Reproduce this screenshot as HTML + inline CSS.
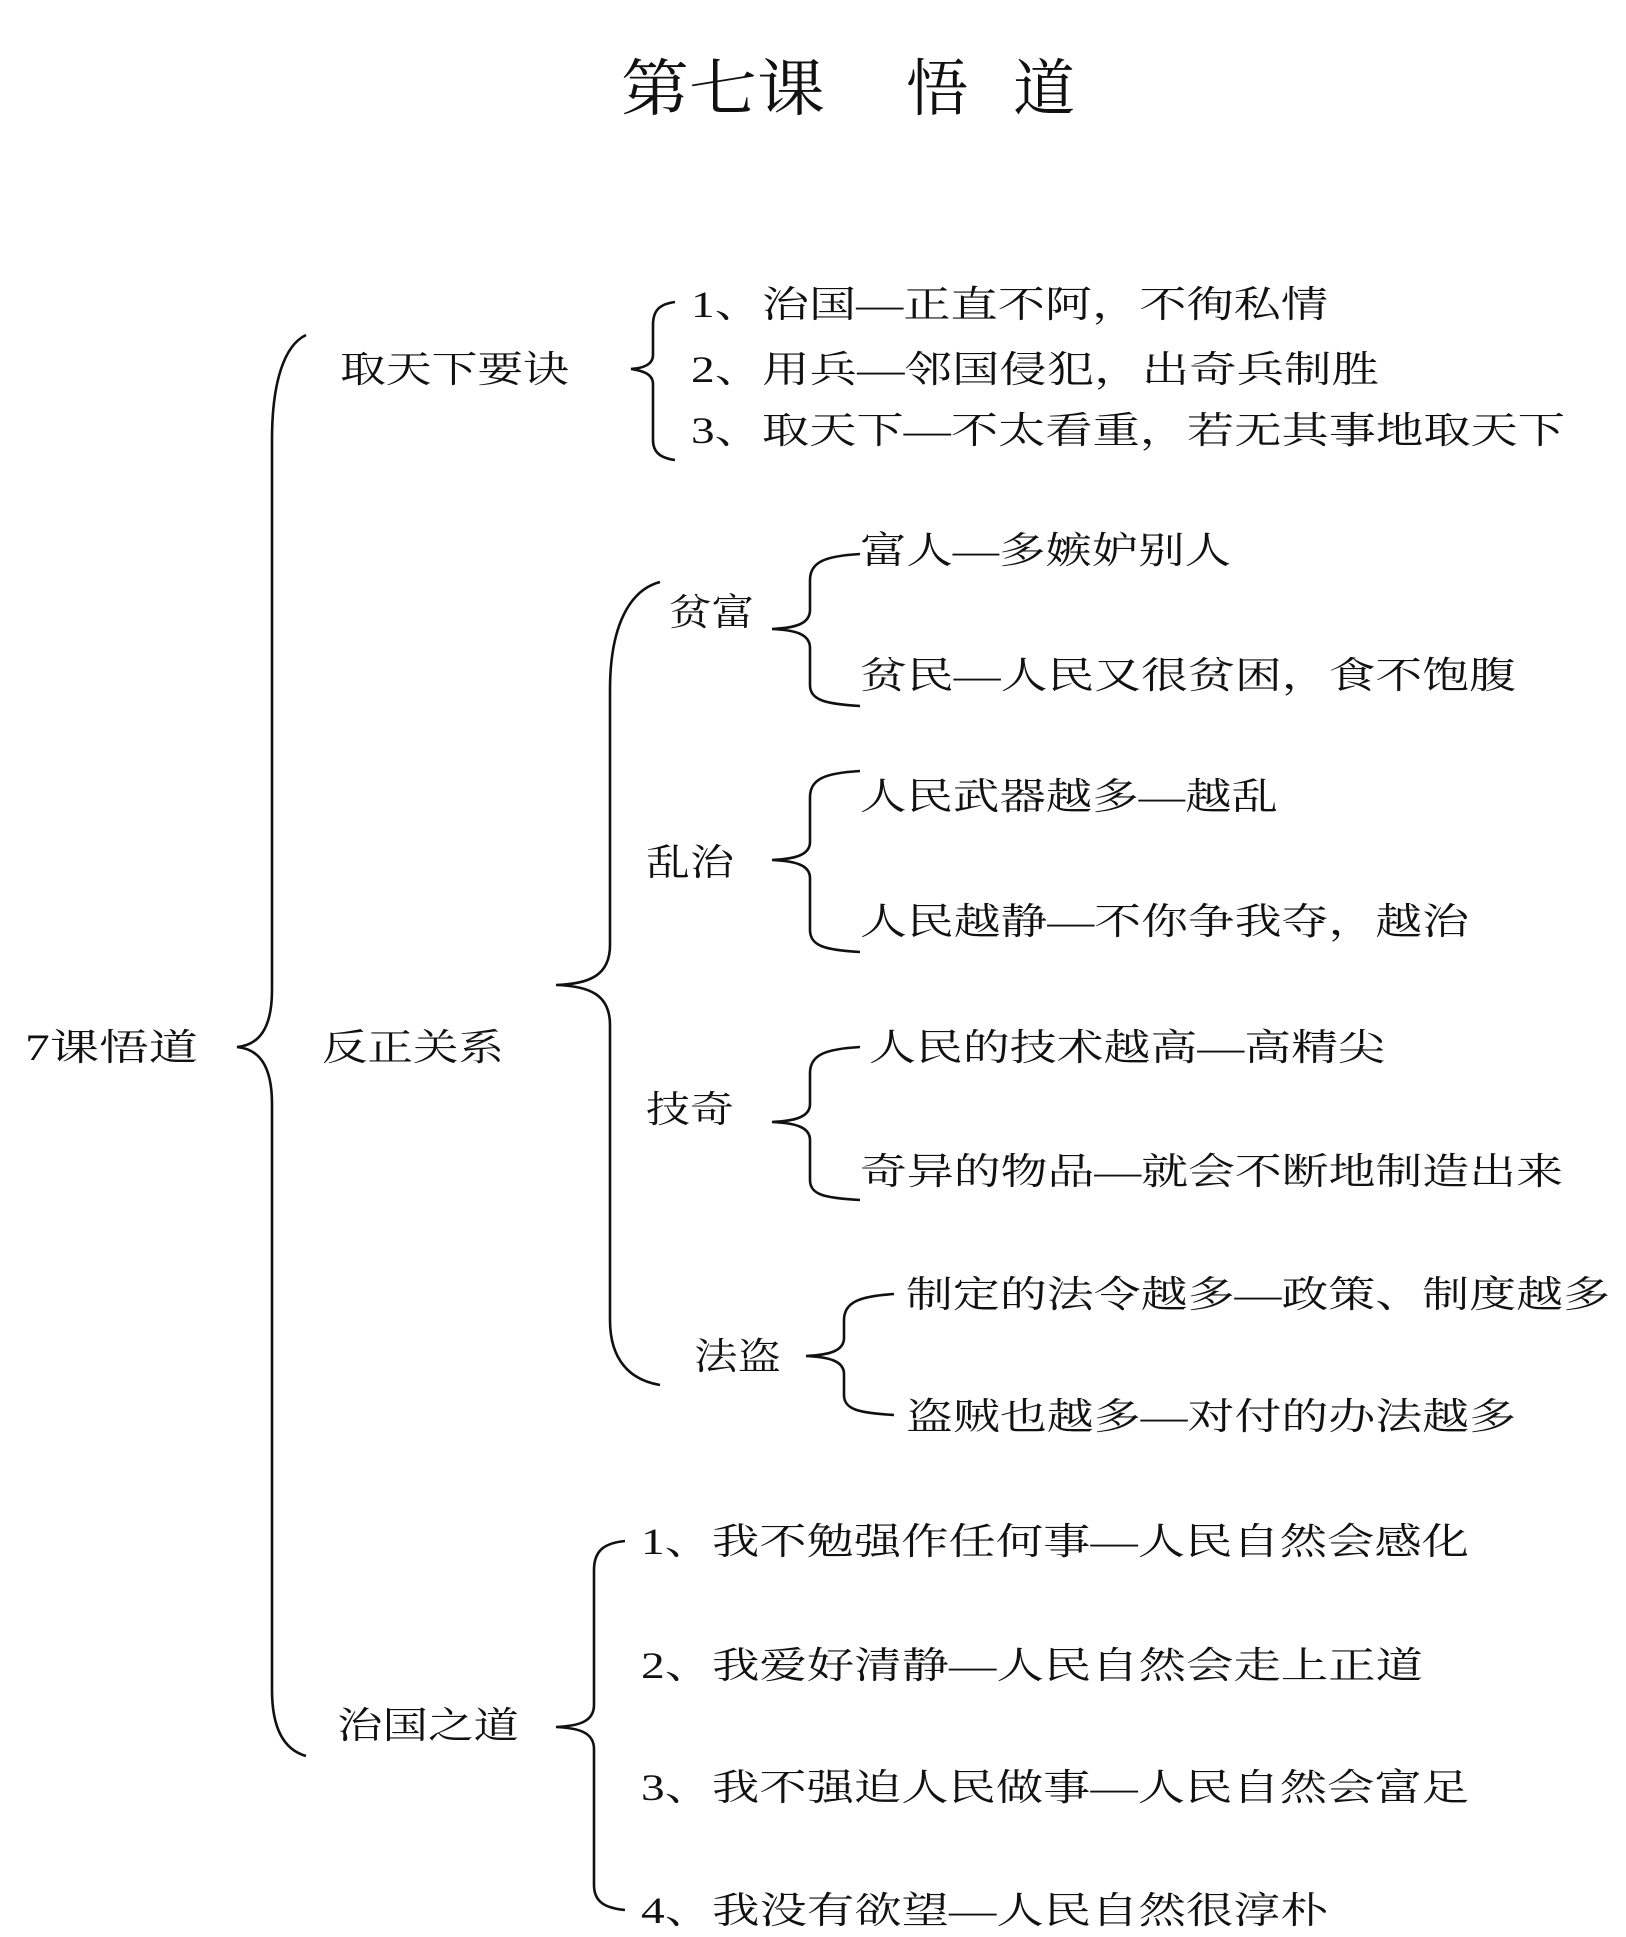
<!DOCTYPE html>
<html><head><meta charset="utf-8"><style>
html,body{margin:0;padding:0;background:#fff;}
svg{display:block;}
text{font-family:"Liberation Serif","Noto Serif CJK SC",serif;font-size:37px;fill:#111;}
.t{font-size:62px;}
path{fill:none;stroke:#111;stroke-width:2.6;}
</style></head><body>
<svg width="1626" height="1937" viewBox="0 0 1626 1937" xmlns="http://www.w3.org/2000/svg">
<text class="t" x="621" y="110" textLength="204" lengthAdjust="spacingAndGlyphs">第七课</text>
<text class="t" x="906" y="110">悟</text>
<text class="t" x="1013" y="110">道</text>

<!-- main brace -->
<path d="M306,335 C285,345 272,380 272,440 L272,990 C272,1030 258,1045 237,1047 C258,1049 272,1064 272,1104 L272,1690 C272,1730 285,1750 306,1756"/>
<text x="25" y="1060" textLength="173" lengthAdjust="spacingAndGlyphs">7课悟道</text>

<!-- 取天下要诀 -->
<text x="340" y="382" textLength="229" lengthAdjust="spacingAndGlyphs">取天下要诀</text>
<path d="M675,302 C660,304 653,310 653,325 L653,355 C653,364 645,368 631,369 C645,371 653,375 653,384 L653,440 C653,452 660,458 675,460"/>
<text x="691" y="317" textLength="637" lengthAdjust="spacingAndGlyphs">1、治国—正直不阿，不徇私情</text>
<text x="691" y="382" textLength="688" lengthAdjust="spacingAndGlyphs">2、用兵—邻国侵犯，出奇兵制胜</text>
<text x="691" y="443" textLength="874" lengthAdjust="spacingAndGlyphs">3、取天下—不太看重，若无其事地取天下</text>

<!-- 反正关系 -->
<text x="322" y="1060" textLength="182" lengthAdjust="spacingAndGlyphs">反正关系</text>
<path d="M660,582 C630,590 610,625 610,690 L610,945 C610,975 590,984 556,985 C590,986 610,995 610,1025 L610,1320 C610,1360 630,1380 660,1385"/>

<!-- 贫富 -->
<text x="669" y="625" textLength="85" lengthAdjust="spacingAndGlyphs">贫富</text>
<path d="M860,554 C825,556 810,562 810,580 L810,610 C810,624 795,628 772,629 C795,630 810,634 810,648 L810,685 C810,700 825,704 860,706"/>
<text x="860" y="563" textLength="371" lengthAdjust="spacingAndGlyphs">富人—多嫉妒别人</text>
<text x="860" y="688" textLength="656" lengthAdjust="spacingAndGlyphs">贫民—人民又很贫困，食不饱腹</text>

<!-- 乱治 -->
<text x="646" y="875" textLength="88" lengthAdjust="spacingAndGlyphs">乱治</text>
<path d="M860,771 C825,773 810,779 810,797 L810,842 C810,855 795,859 772,860 C795,861 810,865 810,878 L810,930 C810,946 825,950 860,952"/>
<text x="860" y="809" textLength="418" lengthAdjust="spacingAndGlyphs">人民武器越多—越乱</text>
<text x="860" y="934" textLength="609" lengthAdjust="spacingAndGlyphs">人民越静—不你争我夺，越治</text>

<!-- 技奇 -->
<text x="646" y="1122" textLength="88" lengthAdjust="spacingAndGlyphs">技奇</text>
<path d="M860,1047 C825,1049 810,1055 810,1073 L810,1104 C810,1117 795,1121 772,1122 C795,1123 810,1127 810,1140 L810,1180 C810,1195 825,1198 860,1200"/>
<text x="869" y="1060" textLength="516" lengthAdjust="spacingAndGlyphs">人民的技术越高—高精尖</text>
<text x="860" y="1184" textLength="703" lengthAdjust="spacingAndGlyphs">奇异的物品—就会不断地制造出来</text>

<!-- 法盗 -->
<text x="694" y="1369" textLength="87" lengthAdjust="spacingAndGlyphs">法盗</text>
<path d="M894,1294 C860,1296 844,1302 844,1320 L844,1338 C844,1351 829,1355 806,1356 C829,1357 844,1361 844,1374 L844,1395 C844,1410 860,1413 894,1415"/>
<text x="906" y="1307" textLength="704" lengthAdjust="spacingAndGlyphs">制定的法令越多—政策、制度越多</text>
<text x="906" y="1429" textLength="610" lengthAdjust="spacingAndGlyphs">盗贼也越多—对付的办法越多</text>

<!-- 治国之道 -->
<text x="337" y="1738" textLength="182" lengthAdjust="spacingAndGlyphs">治国之道</text>
<path d="M625,1541 C605,1543 594,1550 594,1570 L594,1705 C594,1722 578,1726 556,1727 C578,1728 594,1732 594,1749 L594,1885 C594,1902 605,1908 625,1910"/>
<text x="641" y="1554" textLength="828" lengthAdjust="spacingAndGlyphs">1、我不勉强作任何事—人民自然会感化</text>
<text x="641" y="1678" textLength="782" lengthAdjust="spacingAndGlyphs">2、我爱好清静—人民自然会走上正道</text>
<text x="641" y="1800" textLength="828" lengthAdjust="spacingAndGlyphs">3、我不强迫人民做事—人民自然会富足</text>
<text x="641" y="1923" textLength="687" lengthAdjust="spacingAndGlyphs">4、我没有欲望—人民自然很淳朴</text>
</svg>
</body></html>
